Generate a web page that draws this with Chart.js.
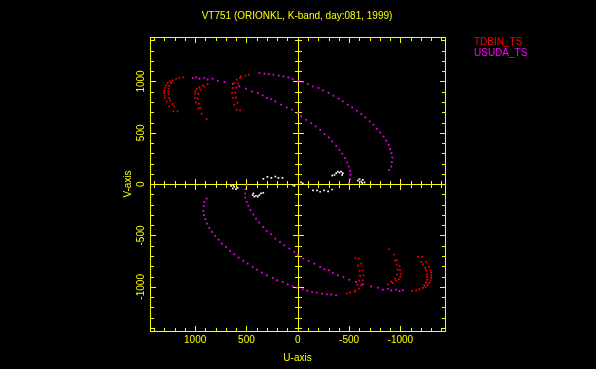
<!DOCTYPE html>
<html>
<head>
<meta charset="UTF-8">
<title>VT751 UV coverage</title>
<script src="https://cdn.jsdelivr.net/npm/chart.js"></script>
<style>
    html, body { margin: 0; padding: 0; background: #000; }
    #wrap { width: 596px; height: 369px; }
</style>
</head>
<body>
<div id="wrap"><canvas id="uvCanvas" width="596" height="369"></canvas></div>

<script>
    // uv samples (u, v), upper half only;
    // the conjugate points (-u, -v) are added below, like AIPS does
    const tdbinArc1 = [[1115,1040],[1154,1034],[1186,1024],[1220,1011],[1245,1001],[1268,985],[1284,962],[1294,937],
        [1300,910],[1303,888],[1300,861],[1294,839],[1278,806],[1252,757],[1213,708],[1171,708],
        [1232,985],[1252,959],[1261,930],[1261,903],[1259,878],[1252,839],[1242,816],[1220,780],[1203,757]];
    const tdbinArc2 = [[878,976],[927,962],[959,942],[985,927],[998,903],[1001,878],[998,839],[991,796],
        [969,741],[937,686],[888,634],[910,949],[949,920],[969,881],[974,832],[964,783],[949,744]];
    const tdbinArc3 = [[478,1066],[510,1057],[552,1050],[562,1034],[595,1018],[618,985],[634,937],[640,888],
        [634,839],[618,774],[595,725],[562,718],[579,979],[598,940],[608,891],[603,842],[588,793]];

    const usudaArcA = [[1024,1034],[991,1040],[959,1027],[910,1034],[878,1018],[829,1027],[780,1008],[715,995],
        [634,976],[569,952],[503,930],[445,904],[390,888],[341,864],[302,839],[260,829],[218,806],[162,774],
        [107,747],[55,725],[0,693],[-33,660],[-82,627],[-131,595],[-173,562],[-219,530],[-260,488],[-302,455],
        [-336,416],[-375,374],[-407,335],[-433,296],[-462,254],[-482,211],[-498,172],[-511,130],[-514,91],
        [-511,49],[-498,10]];
    const usudaArcB = [[374,1083],[325,1076],[283,1073],[237,1066],[185,1057],[140,1050],[91,1040],[49,1024],
        [-7,1008],[-49,995],[-98,976],[-146,952],[-202,937],[-244,913],[-300,888],[-348,862],[-397,833],
        [-439,806],[-488,774],[-531,747],[-576,715],[-619,683],[-660,650],[-700,611],[-739,579],[-771,540],
        [-804,503],[-836,464],[-862,425],[-885,384],[-901,341],[-914,302],[-921,260],[-917,215],[-911,172],
        [-888,140]];

    const shortBaselines = [[335,52],[296,71],[257,61],[218,74],[188,61],[149,61],
        [-336,84],[-358,90],[-375,107],[-390,122],[-407,113],[-423,122],[-439,107],[-433,90],
        [-585,35],[-602,49],[-619,25],[-634,42],[-651,16],[-629,10],[49,-7],[32,-17]];

    const legendNames = ['TDBIN_TS', 'USUDA_TS'];
    const legendColors = ['#ff0000', '#ff00ff'];

    const uTickLabels = [1000, 500, 0, -500, -1000];
    const vTickLabels = [1000, 500, 0, -500, -1000];
    const minorStep = 100;
    const tickLimit = 1400;

    const titulo = 'VT751 (ORIONKL, K-band, day:081, 1999)';
    const amarelo = '#ffff00';
    const fonte = '"Liberation Sans", Arial, sans-serif';

    function comConjugados(lista) {
        let pontos = [];
        for (let i = 0; i < lista.length; i++) {
            pontos.push({ x: lista[i][0], y: lista[i][1] });
            pontos.push({ x: -lista[i][0], y: -lista[i][1] });
        }
        return pontos;
    }

    // desenha moldura, eixos em zero, ticks e textos
    const moldura = {
        id: 'moldura',
        beforeDraw(chart) {
            const ctx = chart.ctx;
            ctx.save();
            ctx.fillStyle = '#000';
            ctx.fillRect(0, 0, chart.width, chart.height);
            ctx.restore();
        },
        beforeDatasetsDraw(chart) {
            const ctx = chart.ctx;
            const ca = chart.chartArea;
            const xs = chart.scales.x;
            const ys = chart.scales.y;
            const L = Math.round(ca.left) + 0.5, R = Math.round(ca.right) + 0.5;
            const T = Math.round(ca.top) + 0.5, B = Math.round(ca.bottom) + 0.5;
            const x0 = Math.round(xs.getPixelForValue(0)) + 0.5;
            const y0 = Math.round(ys.getPixelForValue(0)) + 0.5;

            ctx.save();
            ctx.strokeStyle = amarelo;
            ctx.lineWidth = 1;
            ctx.strokeRect(L, T, R - L, B - T);

            ctx.beginPath();
            ctx.moveTo(x0, T); ctx.lineTo(x0, B);
            ctx.moveTo(L, y0); ctx.lineTo(R, y0);

            for (let t = -tickLimit; t <= tickLimit; t += minorStep) {
                const len = (t % 500 === 0) ? 5.5 : 3.5;
                const px = Math.round(xs.getPixelForValue(t)) + 0.5;
                const py = Math.round(ys.getPixelForValue(t)) + 0.5;
                ctx.moveTo(px, T); ctx.lineTo(px, T + len);
                ctx.moveTo(px, B); ctx.lineTo(px, B - len);
                ctx.moveTo(px, y0 - len); ctx.lineTo(px, y0 + len);
                ctx.moveTo(L, py); ctx.lineTo(L + len, py);
                ctx.moveTo(R, py); ctx.lineTo(R - len, py);
                ctx.moveTo(x0 - len, py); ctx.lineTo(x0 + len, py);
            }
            ctx.stroke();
            ctx.restore();
        },
        afterDraw(chart) {
            const ctx = chart.ctx;
            const ca = chart.chartArea;
            const xs = chart.scales.x;
            const ys = chart.scales.y;

            ctx.save();
            ctx.fillStyle = amarelo;
            ctx.font = '10px ' + fonte;
            ctx.textAlign = 'center';
            ctx.textBaseline = 'middle';

            ctx.fillText(titulo, 297, 16);

            for (let i = 0; i < uTickLabels.length; i++) {
                ctx.fillText(String(uTickLabels[i]), xs.getPixelForValue(uTickLabels[i]), ca.bottom + 9);
            }
            ctx.fillText('U-axis', (ca.left + ca.right) / 2, ca.bottom + 27);

            for (let i = 0; i < vTickLabels.length; i++) {
                ctx.save();
                ctx.translate(ca.left - 9, ys.getPixelForValue(vTickLabels[i]));
                ctx.rotate(-Math.PI / 2);
                ctx.fillText(String(vTickLabels[i]), 0, 0);
                ctx.restore();
            }
            ctx.save();
            ctx.translate(ca.left - 22, (ca.top + ca.bottom) / 2);
            ctx.rotate(-Math.PI / 2);
            ctx.fillText('V-axis', 0, 0);
            ctx.restore();

            // legenda
            ctx.textAlign = 'left';
            for (let i = 0; i < legendNames.length; i++) {
                ctx.fillStyle = legendColors[i];
                ctx.fillText(legendNames[i], 474, 42 + i * 11);
            }
            ctx.restore();
        }
    };

    const ponto = { pointStyle: 'rect', pointRadius: 1.2, borderWidth: 0, showLine: false };

    const dados = {
        datasets: [
            Object.assign({ label: legendNames[0], backgroundColor: legendColors[0],
                data: comConjugados(tdbinArc1.concat(tdbinArc2, tdbinArc3)) }, ponto),
            Object.assign({ label: legendNames[1], backgroundColor: legendColors[1],
                data: comConjugados(usudaArcA.concat(usudaArcB)) }, ponto),
            Object.assign({ label: 'short', backgroundColor: '#ffffff',
                data: comConjugados(shortBaselines) }, ponto)
        ]
    };

    const config = {
        type: 'scatter',
        data: dados,
        options: {
            responsive: false,
            animation: false,
            devicePixelRatio: 1,
            layout: { padding: { left: 150, right: 151, top: 37, bottom: 38 } },
            scales: {
                x: { type: 'linear', min: -1435, max: 1440, reverse: true, display: false },
                y: { type: 'linear', min: -1430, max: 1433, display: false }
            },
            plugins: {
                legend: { display: false },
                title: { display: false },
                tooltip: { enabled: false }
            }
        },
        plugins: [moldura]
    };

    let myChart = new Chart(document.getElementById('uvCanvas'), config);
</script>
</body>
</html>
